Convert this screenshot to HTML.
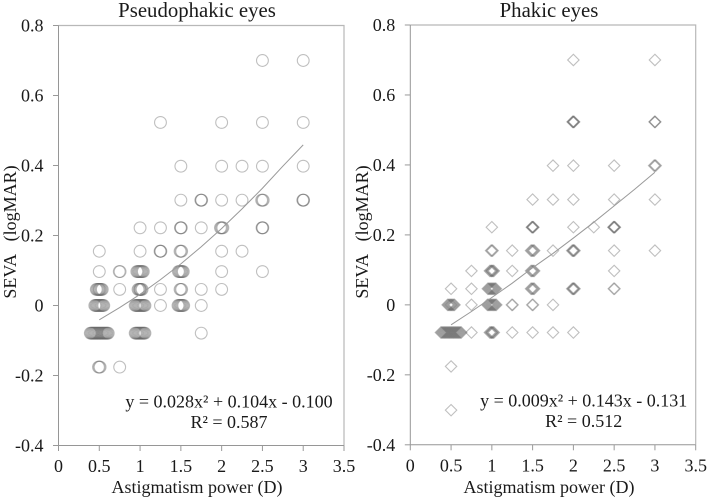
<!DOCTYPE html>
<html lang="en">
<head>
<meta charset="utf-8">
<title>SEVA vs astigmatism power</title>
<style>
html,body{margin:0;padding:0;background:#fff;width:708px;height:500px;overflow:hidden}
svg{display:block;filter:blur(.3px)}
text{font-family:"Liberation Serif",serif;fill:#1a1a1a;font-size:18px}
</style>
</head>
<body>
<svg id="figure" width="708" height="500" viewBox="0 0 708 500" xmlns="http://www.w3.org/2000/svg"></svg>
<script>
const xTickLabels = ['0','0.5','1','1.5','2','2.5','3','3.5'];
const xTickValues = [0,0.5,1,1.5,2,2.5,3,3.5];
const yTickLabels = ['0.8','0.6','0.4','0.2','0','-0.2','-0.4'];
const yTickValues = [0.8,0.6,0.4,0.2,0,-0.2,-0.4];

const pseudoSeva = [0.7,0.523,0.398,0.301,0.222,0.155,0.097,0.046,0,-0.079,-0.176];
const pseudoPower = [
  [2.5,3],
  [1.25,2,2.5,3],
  [1.5,2,2.25,2.5,3],
  [1.5,1.745,1.75,1.755,2,2.25,2.49,2.5,2.51,2.995,3,3.005],
  [1,1.25,1.495,1.5,1.505,1.75,1.985,1.995,2.005,2.015,2.495,2.5,2.505],
  [0.5,1,1.245,1.25,1.255,1.49,1.5,1.51,2,2.25],
  [0.5,0.745,0.755,0.96,0.97,0.98,0.99,1,1.01,1.02,1.03,1.04,1.47,1.48,1.49,1.5,1.51,1.52,1.53,2,2.5],
  [0.463,0.473,0.483,0.493,0.5,0.507,0.517,0.527,0.537,0.75,0.975,0.985,0.995,1,1.005,1.015,1.025,1.25,1.49,1.5,1.51,1.75,2],
  [0.445,0.455,0.465,0.475,0.485,0.495,0.505,0.515,0.525,0.535,0.545,0.555,0.94,0.95,0.96,0.97,0.98,0.99,1,1.01,1.02,1.03,1.04,1.05,1.06,1.25,1.465,1.475,1.485,1.495,1.505,1.515,1.525,1.535,1.75],
  [0.39,0.4,0.41,0.42,0.43,0.44,0.45,0.46,0.47,0.48,0.49,0.5,0.51,0.52,0.53,0.54,0.55,0.56,0.57,0.58,0.59,0.6,0.61,0.94,0.95,0.96,0.97,0.98,0.99,1,1.01,1.02,1.03,1.04,1.05,1.06,1.75],
  [0.49,0.5,0.51,0.75]
];
const pseudoFitPower = [0.5,0.75,1,1.25,1.5,1.75,2,2.25,2.5,2.75,3];
const pseudoFitSeva = [-0.041,-0.006,0.032,0.074,0.119,0.168,0.22,0.276,0.335,0.398,0.459];

const phakicSeva = [0.7,0.523,0.398,0.301,0.222,0.155,0.097,0.046,0,-0.079,-0.176,-0.301];
const phakicPower = [
  [2,3],
  [1.99,1.995,2,2.005,2.01,2.995,3,3.005],
  [1.75,2,2.5,2.99,3,3.01],
  [1.5,1.75,2,2.5,3],
  [1,1.49,1.495,1.5,1.505,1.51,2,2.25,2.49,2.495,2.5,2.505,2.51],
  [0.99,1,1.01,1.25,1.48,1.49,1.5,1.51,1.52,1.75,1.985,1.995,2,2.005,2.015,2.5,3],
  [0.75,0.975,0.985,0.995,1,1.005,1.015,1.025,1.25,1.48,1.49,1.5,1.51,1.52,2.5],
  [0.5,0.75,0.95,0.96,0.97,0.98,0.99,1,1.01,1.02,1.03,1.04,1.05,1.48,1.49,1.5,1.51,1.52,1.985,1.995,2,2.005,2.015,2.495,2.505],
  [0.457,0.467,0.477,0.487,0.497,0.503,0.513,0.523,0.533,0.543,0.75,0.945,0.955,0.965,0.975,0.985,0.995,1.005,1.015,1.025,1.035,1.045,1.055,1.245,1.255,1.495,1.505,1.75],
  [0.375,0.385,0.395,0.405,0.415,0.425,0.435,0.445,0.455,0.465,0.475,0.485,0.495,0.505,0.515,0.525,0.535,0.545,0.555,0.565,0.575,0.585,0.595,0.605,0.615,0.625,0.75,0.975,0.985,0.995,1,1.005,1.015,1.025,1.25,1.5,1.75,2],
  [0.5],
  [0.5]
];
const phakicFitPower = [0.5,0.75,1,1.25,1.5,1.75,2,2.25,2.5,2.75,3];
const phakicFitSeva = [-0.057,-0.019,0.021,0.062,0.106,0.147,0.191,0.236,0.283,0.33,0.379];

const svgNS = 'http://www.w3.org/2000/svg';
const figure = document.getElementById('figure');

function make(parent, tag, attrs, content) {
  const el = document.createElementNS(svgNS, tag);
  for (const k in attrs) el.setAttribute(k, attrs[k]);
  if (content !== undefined) el.textContent = content;
  parent.appendChild(el);
  return el;
}

function drawPanel(cfg) {
  const xScale = v => cfg.left + (v / 3.5) * (cfg.right - cfg.left);
  const yScale = v => cfg.top + ((0.8 - v) / 1.2) * (cfg.bottom - cfg.top);

  const panel = make(figure, 'g', {});
  
  

  const frame = make(panel, 'path', {
    d: `M${cfg.left} ${cfg.top}H${cfg.right}V${cfg.bottom}`,
    fill: 'none', stroke: '#b8b8b8', 'stroke-width': 1.2
  });
  
  

  const xAxis = make(panel, 'path', {
    d: `M${cfg.left} ${cfg.bottom}H${cfg.right}`, stroke: '#969696', 'stroke-width': 1, fill: 'none'
  });
  
  

  const yAxis = make(panel, 'path', {
    d: `M${cfg.left} ${cfg.top}V${cfg.bottom}`, stroke: '#969696', 'stroke-width': 1, fill: 'none'
  });
  
  

  xTickValues.forEach((v, i) => {
    const x = xScale(v);
    const tick = make(panel, 'line', {x1: x, x2: x, y1: cfg.bottom, y2: cfg.bottom + 5.5, stroke: '#999', 'stroke-width': 1});
    
    
    const label = make(panel, 'text', {x: x, y: cfg.bottom + 26.5, 'text-anchor': 'middle'}, xTickLabels[i]);
    
    
  });

  yTickValues.forEach((v, i) => {
    const y = yScale(v);
    const tick = make(panel, 'line', {x1: cfg.left - 5.5, x2: cfg.left, y1: y, y2: y, stroke: '#999', 'stroke-width': 1});
    
    
    const label = make(panel, 'text', {x: cfg.left - 15, y: y + 6, 'text-anchor': 'end'}, yTickLabels[i]);
    
    
  });

  const marks = make(panel, 'g', {fill: 'none', stroke: '#666', 'stroke-opacity': 0.42, 'stroke-width': 1.1});
  
  
  cfg.seva.forEach((s, row) => {
    cfg.power[row].forEach(p => {
      const cx = xScale(p), cy = yScale(s);
      let mark;
      if (cfg.shape === 'circle') {
        mark = make(marks, 'circle', {cx: cx, cy: cy, r: 5.9});
      } else {
        const d = 5.7;
        mark = make(marks, 'polygon', {points: `${cx},${cy - d} ${cx + d},${cy} ${cx},${cy + d} ${cx - d},${cy}`});
      }
      
      
    });
  });

  const fitPoints = cfg.fitPower.map((p, i) => xScale(p) + ',' + yScale(cfg.fitSeva[i])).join(' ');
  const fit = make(panel, 'polyline', {points: fitPoints, fill: 'none', stroke: '#999', 'stroke-width': 1});
  
  

  const title = make(panel, 'text', {x: cfg.titleX, y: 17, 'text-anchor': 'middle', style: 'font-size:20.8px'}, cfg.title);
  
  

  const xTitle = make(panel, 'text', {x: cfg.xTitleX, y: 493, 'text-anchor': 'middle'}, 'Astigmatism power (D)');
  
  

  const yTitle = make(panel, 'text', {
    transform: `translate(${cfg.yTitleX} 232) rotate(-90)`, 'text-anchor': 'middle', 'xml:space': 'preserve', style: 'white-space:pre'
  }, 'SEVA   (logMAR)');
  
  

  const equation = make(panel, 'text', {x: cfg.eqX, y: cfg.eqY, 'text-anchor': 'middle'}, cfg.equation);
  
  

  const rSquared = make(panel, 'text', {x: cfg.eqX, y: cfg.eqY + 20.5, 'text-anchor': 'middle'}, cfg.rSquared);
  
  
}

drawPanel({
  name: 'pseudophakic', shape: 'circle', title: 'Pseudophakic eyes',
  left: 58.5, right: 344, top: 25.5, bottom: 445.5,
  titleX: 197, xTitleX: 197, yTitleX: 16,
  eqX: 229, eqY: 407.5,
  equation: 'y = 0.028x² + 0.104x - 0.100', rSquared: 'R² = 0.587',
  seva: pseudoSeva, power: pseudoPower, fitPower: pseudoFitPower, fitSeva: pseudoFitSeva
});

drawPanel({
  name: 'phakic', shape: 'diamond', title: 'Phakic eyes',
  left: 410.3, right: 695.7, top: 25, bottom: 444.8,
  titleX: 549, xTitleX: 549, yTitleX: 368,
  eqX: 583.7, eqY: 406.5,
  equation: 'y = 0.009x² + 0.143x - 0.131', rSquared: 'R² = 0.512',
  seva: phakicSeva, power: phakicPower, fitPower: phakicFitPower, fitSeva: phakicFitSeva
});
</script>
</body>
</html>
